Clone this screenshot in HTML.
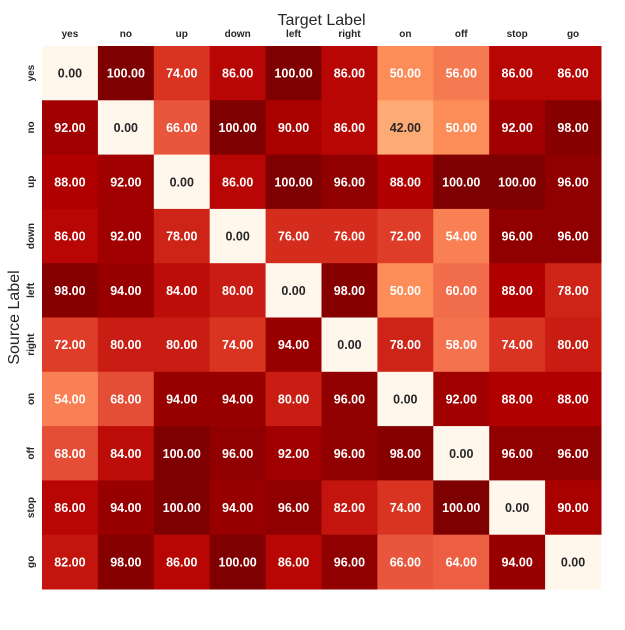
<!DOCTYPE html>
<html><head><meta charset="utf-8"><style>
body{margin:0;background:#fff;}
svg text{font-family:"Liberation Sans","DejaVu Sans",sans-serif;}
</style></head><body>
<svg id="chart" width="625" height="625"></svg>
<script>
const xLabels=["yes","no","up","down","left","right","on","off","stop","go"];
const yLabels=["yes","no","up","down","left","right","on","off","stop","go"];
const row0=[0,100,74,86,100,86,50,56,86,86];
const row1=[92,0,66,100,90,86,42,50,92,98];
const row2=[88,92,0,86,100,96,88,100,100,96];
const row3=[86,92,78,0,76,76,72,54,96,96];
const row4=[98,94,84,80,0,98,50,60,88,78];
const row5=[72,80,80,74,94,0,78,58,74,80];
const row6=[54,68,94,94,80,96,0,92,88,88];
const row7=[68,84,100,96,92,96,98,0,96,96];
const row8=[86,94,100,94,96,82,74,100,0,90];
const row9=[82,98,86,100,86,96,66,64,94,0];
const values=[row0,row1,row2,row3,row4,row5,row6,row7,row8,row9];

const NS="http://www.w3.org/2000/svg";
const svg=document.getElementById('chart');
const L=42,T=46,W=559,H=543;
const cw=W/xLabels.length, ch=H/yLabels.length;
const xPos=i=>L+i*cw, yPos=j=>T+j*ch;
const stops=["#fff7ec","#fee8c8","#fdd49e","#fdbb84","#fc8d59","#ef6548","#d7301f","#b30000","#7f0000"];
function hex(h){return [1,3,5].map(k=>parseInt(h.substr(k,2),16));}
function color(v){
  const t=Math.max(0,Math.min(1,v/100))*(stops.length-1);
  const i=Math.min(Math.floor(t),stops.length-2), f=t-i;
  const a=hex(stops[i]),b=hex(stops[i+1]);
  return "rgb("+a.map((x,k)=>Math.round(x+(b[k]-x)*f)).join(",")+")";
}
function mk(tag,attrs,txt){const e=document.createElementNS(NS,tag);for(const k in attrs)e.setAttribute(k,attrs[k]);if(txt!==undefined)e.textContent=txt;svg.appendChild(e);return e;}

values.forEach((row,j)=>row.forEach((v,i)=>{
  const r=mk('rect',{x:xPos(i),y:yPos(j),width:cw+0.5,height:ch+0.5,fill:color(v)});
  
  
  const t=mk('text',{x:xPos(i)+cw/2,y:yPos(j)+ch/2+4.5,'text-anchor':'middle','font-size':12.5,'font-weight':'bold',fill:v<45?'#262626':'#ffffff'},v.toFixed(2));
  
  
}));
xLabels.forEach((l,i)=>{
  const t=mk('text',{x:xPos(i)+cw/2,y:37,'text-anchor':'middle','font-size':10,'font-weight':'bold',fill:'#262626'},l);
  
  
});
yLabels.forEach((l,j)=>{
  const cy=yPos(j)+ch/2;
  const t=mk('text',{x:0,y:0,transform:'translate(34,'+cy+') rotate(-90)','text-anchor':'middle','font-size':10,'font-weight':'bold',fill:'#262626'},l);
  
  
});
const xt=mk('text',{x:L+W/2,y:25,'text-anchor':'middle','font-size':16,fill:'#262626'},'Target Label');


const yt=mk('text',{x:0,y:0,transform:'translate(19,'+(T+H/2)+') rotate(-90)','text-anchor':'middle','font-size':16,fill:'#262626'},'Source Label');


</script>
</body></html>
